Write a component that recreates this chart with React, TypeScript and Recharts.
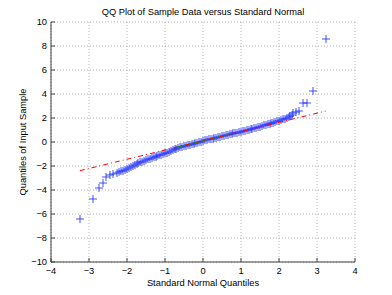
import { ScatterChart, Scatter, XAxis, YAxis, CartesianGrid } from 'recharts'

// theoretical (standard normal) quantiles and matching sample quantiles
const qqX = [
  -3.24, -2.9, -2.73, -2.62, -2.54, -2.45, -2.36, -2.27,
  -2.2, -2.15, -2.1, -2.05, -2.0, -1.95, -1.9, -1.85, -1.8, -1.75, -1.7, -1.65,
  -1.6, -1.55, -1.5, -1.45, -1.4, -1.35, -1.3, -1.25, -1.2, -1.15, -1.1, -1.05,
  -1.0, -0.95, -0.9, -0.85, -0.8, -0.75, -0.7, -0.65, -0.6, -0.55, -0.5, -0.45,
  -0.4, -0.35, -0.3, -0.25, -0.2, -0.15, -0.1, -0.05, 0.0, 0.05, 0.1, 0.15,
  0.2, 0.25, 0.3, 0.35, 0.4, 0.45, 0.5, 0.55, 0.6, 0.65, 0.7, 0.75, 0.8, 0.85,
  0.9, 0.95, 1.0, 1.05, 1.1, 1.15, 1.2, 1.25, 1.3, 1.35, 1.4, 1.45, 1.5, 1.55,
  1.6, 1.65, 1.7, 1.75, 1.8, 1.85, 1.9, 1.95, 2.0, 2.05, 2.1, 2.15, 2.2, 2.25,
  2.29, 2.33, 2.38, 2.45, 2.53, 2.62, 2.73, 2.9, 3.23,
]
const qqY = [
  -6.44, -4.78, -3.8, -3.44, -2.95, -2.75, -2.67, -2.56,
  -2.47, -2.42, -2.38, -2.33, -2.27, -2.19, -2.1, -2.02, -1.95, -1.87, -1.77, -1.69,
  -1.63, -1.56, -1.5, -1.44, -1.38, -1.33, -1.28, -1.22, -1.17, -1.12, -1.07, -1.01,
  -0.95, -0.88, -0.82, -0.75, -0.69, -0.62, -0.56, -0.5, -0.45, -0.4, -0.35, -0.3,
  -0.26, -0.21, -0.17, -0.13, -0.09, -0.05, 0.0, 0.04, 0.08, 0.13, 0.17, 0.21,
  0.25, 0.29, 0.33, 0.37, 0.41, 0.45, 0.49, 0.53, 0.57, 0.61, 0.64, 0.68, 0.72, 0.75,
  0.79, 0.83, 0.86, 0.9, 0.94, 0.98, 1.02, 1.06, 1.1, 1.14, 1.19, 1.23, 1.28, 1.33,
  1.38, 1.43, 1.48, 1.53, 1.57, 1.62, 1.66, 1.71, 1.76, 1.81, 1.88, 1.95, 2.03, 2.1,
  2.17, 2.27, 2.39, 2.53, 2.55, 3.28, 3.28, 4.25, 8.58,
]

// fitted reference line (dash-dot) and the quartile segment
const refLineX = [-3.24, 3.23]
const refLineY = [-2.39, 2.58]
const quartileX = [-0.67, 0.67]
const quartileY = [-0.42, 0.62]

const xTicks = [-4, -3, -2, -1, 0, 1, 2, 3, 4]
const yTicks = [-10, -8, -6, -4, -2, 0, 2, 4, 6, 8, 10]

const title = 'QQ Plot of Sample Data versus Standard Normal'
const xLabel = 'Standard Normal Quantiles'
const yLabel = 'Quantiles of Input Sample'

const points = qqX.map((x, i) => ({ x, y: qqY[i] }))
const refLine = refLineX.map((x, i) => ({ x, y: refLineY[i] }))
const quartileLine = quartileX.map((x, i) => ({ x, y: quartileY[i] }))

const AXIS = '#404040'
const FS = 9.3

const fmt = (v: number) => (v < 0 ? '\u2212' + Math.abs(v) : String(v))

// soft '+' marker, like the antialiased matlab one
function Plus(props: any) {
  const { cx, cy } = props
  if (cx == null || cy == null) return <g />
  const x = Math.round(cx)
  const y = Math.round(cy)
  return <path d={`M${x - 4},${y}H${x + 4}M${x},${y - 4}V${y + 4}`} stroke="#2233ff" strokeWidth={1} strokeOpacity={0.85} fill="none" />
}

const Nothing = () => <g />

function BottomTick({ x, y, payload }: any) {
  return (
    <g>
      <line x1={x} x2={x} y1={y} y2={y - 4} stroke={AXIS} />
      <text x={x} y={y + 11.5} textAnchor="middle" fontSize={FS} fill="#000">{fmt(payload.value)}</text>
    </g>
  )
}
function TopTick({ x, y }: any) {
  return <line x1={x} x2={x} y1={y} y2={y + 4} stroke={AXIS} />
}
function LeftTick({ x, y, payload }: any) {
  return (
    <g>
      <line x1={x} x2={x + 4} y1={y} y2={y} stroke={AXIS} />
      <text x={x - 4} y={y + 3.4} textAnchor="end" fontSize={FS} fill="#000">{fmt(payload.value)}</text>
    </g>
  )
}
function RightTick({ x, y }: any) {
  return <line x1={x} x2={x - 4} y1={y} y2={y} stroke={AXIS} />
}

export default function App() {
  return (
    <div style={{ position: 'absolute', left: 0, top: 0, width: 392, height: 295, background: '#fff', fontFamily: '"Liberation Sans", Arial, sans-serif' }}>
      <ScatterChart width={392} height={295} margin={{ top: 22, right: 37, bottom: 0, left: 0 }}>
        <CartesianGrid stroke="#b4b4b4" strokeDasharray="1 2" />
        <XAxis type="number" dataKey="x" domain={[-4, 4]} ticks={xTicks} allowDataOverflow height={33}
          tickSize={0} tickMargin={0} tickLine={false} axisLine={{ stroke: AXIS }} tick={<BottomTick />} interval={0} />
        <XAxis xAxisId="top" orientation="top" type="number" dataKey="x" domain={[-4, 4]} ticks={xTicks} allowDataOverflow height={0}
          tickSize={0} tickMargin={0} tickLine={false} axisLine={{ stroke: AXIS }} tick={<TopTick />} interval={0} />
        <YAxis type="number" dataKey="y" domain={[-10, 10]} ticks={yTicks} allowDataOverflow width={51}
          tickSize={0} tickMargin={0} tickLine={false} axisLine={{ stroke: AXIS }} tick={<LeftTick />} interval={0} />
        <YAxis yAxisId="right" orientation="right" type="number" dataKey="y" domain={[-10, 10]} ticks={yTicks} allowDataOverflow width={0}
          tickSize={0} tickMargin={0} tickLine={false} axisLine={{ stroke: AXIS }} tick={<RightTick />} interval={0} />
        <Scatter data={points} shape={<Plus />} isAnimationActive={false} />
        <Scatter data={quartileLine} xAxisId="top" yAxisId="right" line={{ stroke: '#00a000', strokeWidth: 1 }} lineType="joint"
          shape={<Nothing />} isAnimationActive={false} />
        <Scatter data={refLine} xAxisId="top" yAxisId="right" line={{ stroke: '#ff0000', strokeWidth: 1, strokeDasharray: '5 3 1 3' }} lineType="joint"
          shape={<Nothing />} isAnimationActive={false} />
      </ScatterChart>
      <svg width={392} height={295} style={{ position: 'absolute', left: 0, top: 0, pointerEvents: 'none' }}>
        <text x={203} y={15} textAnchor="middle" fontSize={FS} fill="#000">{title}</text>
        <text x={203} y={285.5} textAnchor="middle" fontSize={FS} fill="#000">{xLabel}</text>
        <text x={0} y={0} transform="translate(25.5,142) rotate(-90)" textAnchor="middle" fontSize={FS} fill="#000">{yLabel}</text>
      </svg>
    </div>
  )
}
